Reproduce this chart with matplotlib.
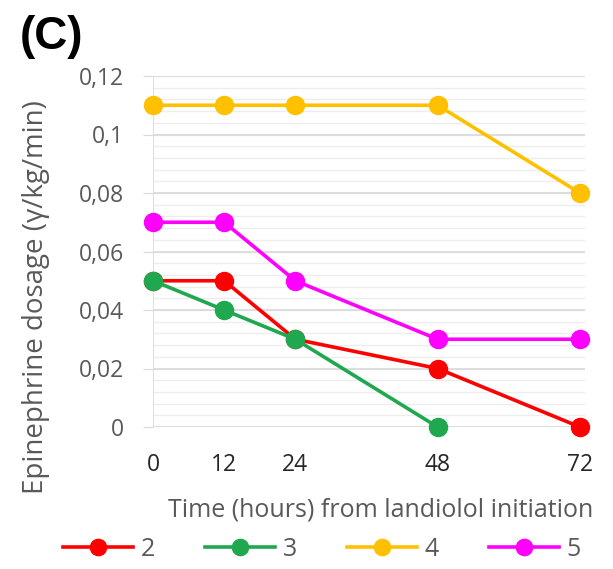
import matplotlib
matplotlib.use("Agg")
import matplotlib.pyplot as plt
import numpy as np

# Data
hours = [0, 12, 24, 48, 72]
patient_2 = [0.05, 0.05, 0.03, 0.02, 0.0]
patient_3 = [0.05, 0.04, 0.03, 0.0, None]
patient_4 = [0.11, 0.11, 0.11, 0.11, 0.08]
patient_5 = [0.07, 0.07, 0.05, 0.03, 0.03]
series_names = ["2", "3", "4", "5"]
series_colors = ["#FF0000", "#1FA84F", "#FFC000", "#FF00FF"]
y_ticks = [0, 0.02, 0.04, 0.06, 0.08, 0.1, 0.12]
y_tick_labels = ["0", "0,02", "0,04", "0,06", "0,08", "0,1", "0,12"]

plt.rcParams['font.family'] = ['Open Sans', 'DejaVu Sans']

fig = plt.figure(figsize=(6.13, 5.69), dpi=100)
ax = fig.add_axes([153 / 613, 1 - 427 / 569, (585 - 153) / 613, (427 - 76) / 569])

# minor gridlines (lighter), then major ones
for v in np.arange(0, 0.1201, 0.004):
    ax.axhline(v, color="#EDEDED", lw=1, zorder=0)
for v in y_ticks:
    ax.axhline(v, color="#D9D9D9", lw=1.2, zorder=0.5)
ax.axvline(0, color="#D9D9D9", lw=1.2, zorder=0.5)

all_series = [patient_2, patient_3, patient_4, patient_5]
for name, vals, col in zip(series_names, all_series, series_colors):
    xs = [h for h, v in zip(hours, vals) if v is not None]
    ys = [v for v in vals if v is not None]
    ax.plot(xs, ys, color=col, lw=2.6, marker="o", markersize=13,
            label=name, clip_on=False, zorder=3)

ax.set_xlim(0, 72.85)
ax.set_ylim(0, 0.12)
ax.set_xticks(hours)
ax.set_xticklabels([str(h) for h in hours], fontsize=16.5, color="#262626")
ax.set_yticks(y_ticks)
ax.set_yticklabels(y_tick_labels, fontsize=16.5, color="#595959")
ax.tick_params(axis="y", length=7, color="#D9D9D9", pad=14)
ax.tick_params(axis="x", length=0, pad=19)
for s in ax.spines.values():
    s.set_visible(False)

fig.text(381 / 613, 1 - 510 / 569, "Time (hours) from landiolol initiation",
         fontsize=18, color="#595959", ha="center", va="center")
fig.text(36 / 613, 1 - 297 / 569, "Epinephrine dosage (γ/kg/min)", rotation=90,
         fontsize=20, color="#595959", ha="center", va="center")

fig.text(20 / 613, 1 - 37 / 569, "(C)", fontsize=33, fontweight="bold",
         family="Liberation Sans", color="black", va="center")

leg = fig.legend(loc="center", bbox_to_anchor=(322 / 613, 1 - 549 / 569), ncol=4,
                 frameon=False, fontsize=18, handlelength=2.8,
                 columnspacing=2.0, handletextpad=0.3, markerscale=0.9)
for t in leg.get_texts():
    t.set_color("#595959")

fig.savefig("out.png", dpi=100)
